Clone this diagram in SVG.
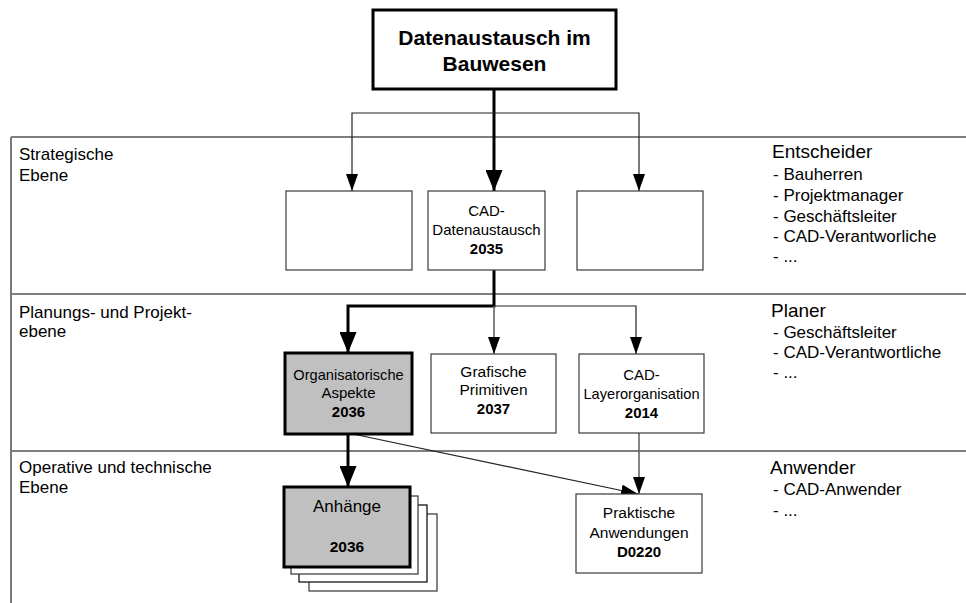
<svg xmlns="http://www.w3.org/2000/svg" width="966" height="603" viewBox="0 0 966 603">
  <defs>
    <marker id="arrow" markerUnits="userSpaceOnUse" markerWidth="18" markerHeight="12" refX="17" refY="6" orient="auto">
      <path d="M0,0 L17,6 L0,12 z" fill="#000"/>
    </marker>
    <marker id="arrowBold" markerUnits="userSpaceOnUse" markerWidth="22" markerHeight="17" refX="21" refY="8.5" orient="auto">
      <path d="M0,0 L21,8.5 L0,17 z" fill="#000"/>
    </marker>
    <style>
      text { font-family: "Liberation Sans", Arial, sans-serif; fill: #000; }
      .lane { stroke: #000; stroke-width: 1.2; fill: none; }
      .laneEdge { stroke: #7a7a7a; stroke-width: 2; fill: none; }
      .lbl { font-size: 17px; }
      .head { font-size: 19px; }
      .item { font-size: 17px; }
      .node { fill: #fff; stroke: #3a3a3a; stroke-width: 1.2; }
      .key { fill: #c0c0c0; stroke: #000; stroke-width: 3; }
      .ntxt { font-size: 15px; text-anchor: middle; }
      .ntxt.wide { font-size: 14.6px; }
      .ntxt.big { font-size: 15.5px; }
      .ntxt.title { font-size: 17px; }
      .num { font-weight: bold; }
      .thin { stroke: #222; stroke-width: 1.2; fill: none; marker-end: url(#arrow); }
      .gray { stroke: #666; stroke-width: 1.6; fill: none; marker-end: url(#arrow); }
      .bold { stroke: #000; stroke-width: 3; fill: none; marker-end: url(#arrowBold); }
    </style>
  </defs>

  <!-- swimlane frame -->
  <g id="lanes">
    <line class="lane" x1="11" y1="137" x2="966" y2="137"/>
    <line class="lane" x1="11" y1="294" x2="966" y2="294"/>
    <line class="lane" x1="11" y1="451" x2="966" y2="451"/>
    <line class="laneEdge" x1="11" y1="137" x2="11" y2="603"/>

    <text class="lbl" x="19" y="160">Strategische</text>
    <text class="lbl" x="19" y="181">Ebene</text>
    <text class="lbl" x="19" y="318">Planungs- und Projekt-</text>
    <text class="lbl" x="19" y="337">ebene</text>
    <text class="lbl" x="19" y="473">Operative und technische</text>
    <text class="lbl" x="19" y="493">Ebene</text>

    <text class="head" x="772" y="158">Entscheider</text>
    <text class="item" x="773" y="180">- Bauherren</text>
    <text class="item" x="773" y="201">- Projektmanager</text>
    <text class="item" x="773" y="222">- Geschäftsleiter</text>
    <text class="item" x="773" y="242">- CAD-Verantworliche</text>
    <text class="item" x="773" y="262">- ...</text>

    <text class="head" x="771" y="317">Planer</text>
    <text class="item" x="773" y="338">- Geschäftsleiter</text>
    <text class="item" x="773" y="358">- CAD-Verantwortliche</text>
    <text class="item" x="773" y="378">- ...</text>

    <text class="head" x="770" y="474">Anwender</text>
    <text class="item" x="773" y="495">- CAD-Anwender</text>
    <text class="item" x="773" y="516">- ...</text>
  </g>

  <!-- connectors -->
  <g id="connectors">
    <path class="bold" d="M494,89 V191"/>
    <path class="thin" d="M494,113 H352 V191"/>
    <path class="thin" d="M494,113 H639 V191"/>
    <path class="bold" d="M494,270 V306 H348 V353"/>
    <path class="gray" d="M494,306 V354"/>
    <path class="thin" d="M494,306 H636 V354"/>
    <path class="bold" d="M348,434 V487"/>
    <path class="thin" d="M353,434 L638,494"/>
    <path class="gray" d="M639,433 V494"/>
  </g>

  <!-- nodes -->
  <g id="root">
    <rect x="373" y="10" width="243" height="79" fill="#fff" stroke="#000" stroke-width="3"/>
    <text x="494.5" y="45" font-size="21" font-weight="bold" text-anchor="middle">Datenaustausch im</text>
    <text x="494.5" y="71" font-size="21" font-weight="bold" text-anchor="middle">Bauwesen</text>
  </g>

  <g id="strategy-left">
    <rect class="node" x="286" y="191" width="126" height="79"/>
  </g>

  <g id="cad-datenaustausch">
    <rect class="node" x="428" y="191" width="117" height="79"/>
    <text class="ntxt" x="486.5" y="216">CAD-</text>
    <text class="ntxt" x="486.5" y="235">Datenaustausch</text>
    <text class="ntxt num" x="486.5" y="254">2035</text>
  </g>

  <g id="strategy-right">
    <rect class="node" x="577" y="191" width="126" height="79"/>
  </g>

  <g id="organisatorische-aspekte">
    <rect class="key" x="285" y="353" width="127" height="81"/>
    <text class="ntxt wide" x="348.5" y="380">Organisatorische</text>
    <text class="ntxt" x="348.5" y="398">Aspekte</text>
    <text class="ntxt num" x="348.5" y="417">2036</text>
  </g>

  <g id="grafische-primitiven">
    <rect class="node" x="431" y="354" width="125" height="79"/>
    <text class="ntxt big" x="493.5" y="377">Grafische</text>
    <text class="ntxt big" x="493.5" y="395">Primitiven</text>
    <text class="ntxt num" x="493.5" y="414">2037</text>
  </g>

  <g id="cad-layerorganisation">
    <rect class="node" x="579" y="354" width="125" height="79"/>
    <text class="ntxt" x="641.5" y="380">CAD-</text>
    <text class="ntxt wide" x="641.5" y="399">Layerorganisation</text>
    <text class="ntxt num" x="641.5" y="418">2014</text>
  </g>

  <g id="anhaenge">
    <rect x="309" y="514" width="128" height="77" fill="#fff" stroke="#333" stroke-width="1.2"/>
    <rect x="299" y="505" width="128" height="77" fill="#fff" stroke="#000" stroke-width="1.2"/>
    <rect x="291" y="496" width="127" height="78" fill="#fff" stroke="#333" stroke-width="1.2"/>
    <rect class="key" x="284" y="487" width="126" height="80"/>
    <text class="ntxt title" x="347" y="512">Anhänge</text>
    <text class="ntxt big num" x="347" y="552">2036</text>
  </g>

  <g id="praktische-anwendungen">
    <rect class="node" x="576" y="494" width="126" height="79"/>
    <text class="ntxt big" x="639" y="518">Praktische</text>
    <text class="ntxt big" x="639" y="538">Anwendungen</text>
    <text class="ntxt num" x="639" y="557">D0220</text>
  </g>
</svg>
